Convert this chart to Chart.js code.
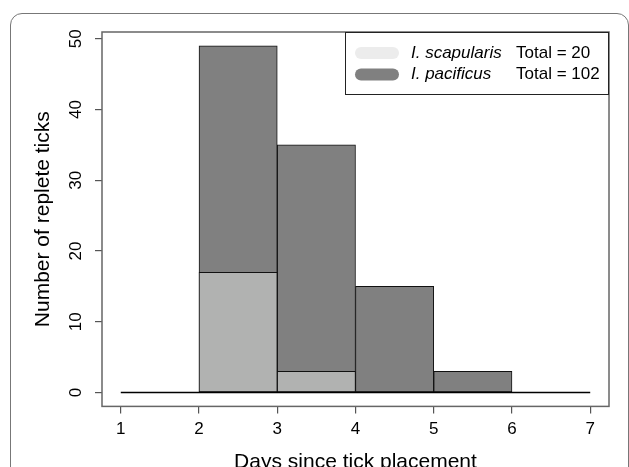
<!DOCTYPE html>
<html>
<head>
<meta charset="utf-8">
<script src="https://cdn.jsdelivr.net/npm/chart.js@4/dist/chart.umd.min.js"></script>
<style>
    body { margin: 0; overflow: hidden; background: #fff; }
    #wrap { position: relative; width: 629px; height: 480px; }
    #frame {
        position: absolute; left: 10px; top: 13px; width: 619px; height: 520px;
        box-sizing: border-box; border: 1.5px solid #777; border-radius: 12px;
    }
    #tickChart { position: absolute; left: 0; top: 0; }
</style>
</head>
<body>
<div id="wrap">
    <div id="frame"></div>
    <canvas id="tickChart" width="629" height="480"></canvas>
</div>
<script>
// ==================== DATA ====================

var binEdges = [1, 2, 3, 4, 5, 6, 7];
var scapularisCounts = [0, 17, 3, 0, 0, 0];
var pacificusCounts = [0, 49, 35, 15, 3, 0];
var speciesNames = ["I. scapularis", "I. pacificus"];
var xTicks = [1, 2, 3, 4, 5, 6, 7];
var yTicks = [0, 10, 20, 30, 40, 50];

var FONT = "'Liberation Sans', Arial, Helvetica, sans-serif";

function toBars(counts) {
    var out = [];
    for (var i = 0; i < counts.length; i++) {
        out.push({ x: (binEdges[i] + binEdges[i + 1]) / 2, y: counts[i] });
    }
    return out;
}

function sum(arr) {
    var t = 0;
    for (var i = 0; i < arr.length; i++) t += arr[i];
    return t;
}

// R style 4% axis extension
var xLo = binEdges[0], xHi = binEdges[binEdges.length - 1];
var xPad = (xHi - xLo) * 0.04;
var yTop = Math.max.apply(null, pacificusCounts);
var yPad = yTop * 0.04;

// plot box + legend drawn on the canvas
var boxLegend = {
    id: "boxLegend",
    afterDatasetsDraw: function(chart) {
        var ctx = chart.ctx;
        var a = chart.chartArea;
        ctx.save();
        ctx.strokeStyle = "#666";
        ctx.lineWidth = 1.5;
        ctx.strokeRect(a.left, a.top, a.right - a.left, a.bottom - a.top);

        // legend box
        var w = 264, h = 63;
        var lx = a.right - w, ly = a.top;
        ctx.fillStyle = "#fff";
        ctx.fillRect(lx, ly, w, h);
        ctx.strokeStyle = "#222";
        ctx.lineWidth = 1;
        ctx.strokeRect(lx + 0.5, ly + 0.5, w - 1, h - 1);

        var swatches = ["#ececec", "#808080"];
        var totals = [sum(scapularisCounts), sum(pacificusCounts)];
        for (var i = 0; i < speciesNames.length; i++) {
            var cy = ly + 21 + i * 21.5;
            ctx.fillStyle = swatches[i];
            ctx.beginPath();
            ctx.roundRect(lx + 10, cy - 6, 44, 12, 6);
            ctx.fill();

            ctx.fillStyle = "#000";
            ctx.textBaseline = "middle";
            ctx.textAlign = "left";
            ctx.font = "italic 17px " + FONT;
            ctx.fillText(speciesNames[i], lx + 66, cy);
            ctx.font = "17px " + FONT;
            ctx.fillText("Total = " + totals[i], lx + 171, cy);
        }
        ctx.restore();
    }
};

var ctx = document.getElementById("tickChart").getContext("2d");

new Chart(ctx, {
    type: "bar",
    data: {
        datasets: [
            {
                type: "line",
                data: [{ x: xLo, y: 0 }, { x: xHi, y: 0 }],
                borderColor: "#000",
                borderWidth: 1.5,
                pointRadius: 0
            },
            {
                label: speciesNames[0],
                data: toBars(scapularisCounts),
                backgroundColor: "#b1b2b1",
                borderColor: "#111",
                borderWidth: 1,
                borderSkipped: false
            },
            {
                label: speciesNames[1],
                data: toBars(pacificusCounts),
                backgroundColor: "#808080",
                borderColor: "#111",
                borderWidth: 1,
                borderSkipped: false
            }
        ]
    },
    options: {
        responsive: false,
        animation: false,
        grouped: false,
        barPercentage: 1,
        categoryPercentage: 1,
        layout: { padding: { left: 30.4, right: 20, top: 32, bottom: 5 } },
        plugins: {
            legend: { display: false },
            tooltip: { enabled: false }
        },
        scales: {
            x: {
                type: "linear",
                offset: false,
                min: xLo - xPad,
                max: xHi + xPad,
                afterBuildTicks: function(scale) {
                    scale.ticks = xTicks.map(function(v) { return { value: v }; });
                },
                grid: { offset: false, drawOnChartArea: false, drawTicks: true, tickLength: 7, color: "#555", lineWidth: 1.2 },
                border: { display: false },
                ticks: { color: "#000", font: { size: 17, family: FONT }, padding: 6, maxRotation: 0 },
                title: {
                    display: true,
                    text: "Days since tick placement",
                    color: "#000",
                    font: { size: 21, family: FONT },
                    padding: { top: 4, bottom: 0 }
                }
            },
            y: {
                min: -yPad,
                max: yTop + yPad,
                afterBuildTicks: function(scale) {
                    scale.ticks = yTicks.map(function(v) { return { value: v }; });
                },
                grid: { drawOnChartArea: false, drawTicks: true, tickLength: 7, color: "#555", lineWidth: 1.2 },
                border: { display: false },
                ticks: {
                    color: "#000",
                    font: { size: 17, family: FONT },
                    padding: 9.5,
                    minRotation: 90,
                    maxRotation: 90,
                    crossAlign: "center"
                },
                title: {
                    display: true,
                    text: "Number of replete ticks",
                    color: "#000",
                    font: { size: 21, family: FONT },
                    padding: { top: 0, bottom: 0 }
                }
            }
        }
    },
    plugins: [boxLegend]
});
</script>
</body>
</html>
